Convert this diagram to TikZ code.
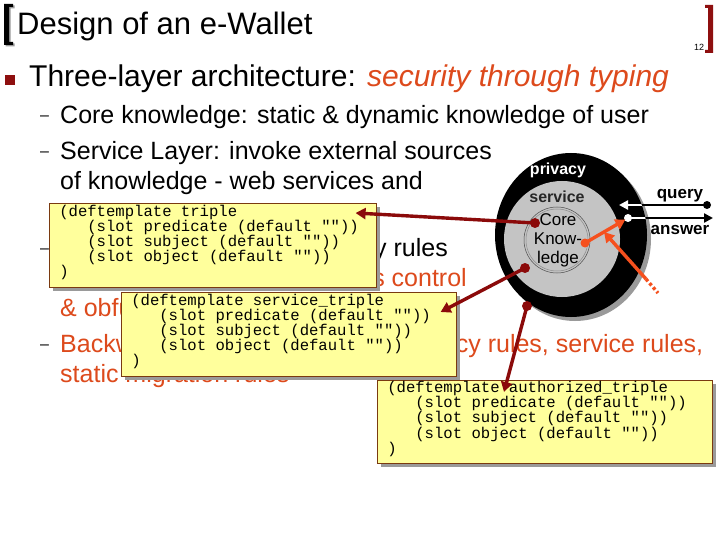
\documentclass[tikz,border=0pt]{standalone}
\usepackage{fontspec}
\setmainfont{Liberation Sans}
\setmonofont{Liberation Mono}
\usetikzlibrary{arrows.meta,positioning,calc,shadows}
\newcommand{\codesp}{\hspace*{0.6em}}
\newcommand{\codeend}{)\rule[-9pt]{0pt}{9pt}}

\begin{document}
\begin{tikzpicture}[
    x=1pt, y=-1pt,
    every node/.style={inner sep=0pt},
    slidetext/.style={anchor=base west, font=\fontsize{25}{30}\selectfont},
    dashmark/.style={anchor=base west, font=\fontsize{16}{18}\selectfont},
    codebox/.style={draw=boxedge, line width=0.6pt, fill=noteyellow, anchor=north west,
      align=left, inner xsep=10pt, inner ysep=0pt, minimum height=84pt,
      font=\ttfamily\fontsize{15.6}{15.1}\selectfont,
      drop shadow={shadow xshift=4pt, shadow yshift=-4pt, fill=boxshadow, opacity=1}},
    redlink/.style={linkred, line width=3.4pt, -{Triangle[length=10pt, width=11pt]}},
    orangelink/.style={linkorange, line width=3.4pt, -{Triangle[length=10pt, width=11pt]}},
    flowlink/.style={line width=2.4pt, -{Triangle[length=9pt, width=9pt]}},
    ringlabel/.style={anchor=base, font=\bfseries\fontsize{16}{18}\selectfont},
  ]
    \definecolor{bracketred}{HTML}{8E0F0F}
    \definecolor{textorange}{HTML}{DD4A1C}
    \definecolor{linkred}{HTML}{8B0A0A}
    \definecolor{linkorange}{HTML}{F5501E}
    \definecolor{noteyellow}{HTML}{FFFF9C}
    \definecolor{boxedge}{HTML}{7A3A10}
    \definecolor{boxshadow}{HTML}{9A9A9A}
    \definecolor{ringgray}{HTML}{C4C4C4}

    \fill[white] (0,0) rectangle (720,540);
    \useasboundingbox (0,0) rectangle (720,540);

    % ---- title ----
    \fill[boxshadow] (5.5,5.5) -- (14.5,5.5) -- (14.5,8.5) -- (10.5,8.5) -- (10.5,43.5)
      -- (14.5,43.5) -- (14.5,46.5) -- (5.5,46.5) -- cycle;
    \fill (4,4) -- (13,4) -- (13,7) -- (9,7) -- (9,42) -- (13,42) -- (13,45) -- (4,45) -- cycle;
    \fill[bracketred] (713,5) -- (705,5) -- (705,8) -- (708,8) -- (708,50) -- (705,50)
      -- (705,53) -- (713,53) -- cycle;
    \node[anchor=base west, font=\fontsize{31}{36}\selectfont] (title) at (17,35) {Design of an e-Wallet};
    \node[anchor=base, font=\fontsize{9}{10}\selectfont] (pagenum) at (699,51) {12};

    % ---- bullets ----
    \fill[bracketred] (5,75) rectangle (15,85);
    \node[anchor=base west, font=\fontsize{30}{36}\selectfont] (topic) at (29,87)
      {Three-layer architecture: \textcolor{textorange}{\itshape security through typing}};
    \foreach \yb in {124,160,256,352}{
      \node[dashmark] (dash\yb) at (40,\yb-3) {\textendash};
    }
    \node[slidetext] (coreline) at (60,124) {Core knowledge: static \& dynamic knowledge of user};
    \node[slidetext] (serviceline) at (60,160) {Service Layer: invoke external sources};
    \node[slidetext] (servicecont) at (60,190) {of knowledge - web services and};
    \node[slidetext, anchor=base east] (privacyline) at (448,256) {Privacy Layer: privacy rules};
    \node[slidetext, anchor=base east, textorange] (privacycont) at (467,286) {role based access control};
    \node[slidetext, textorange] (privacyobf) at (60,316) {\& obfuscation};
    \node[slidetext, textorange] (backwardline) at (60,352)
      {\makebox[643pt][l]{Backward chaining:\hfill privacy rules, service rules,}};
    \node[slidetext, textorange] (backwardcont) at (60,382) {static migration rules};

    % ---- three-layer rings ----
    \fill[boxshadow] (575,239) ellipse [x radius=76, y radius=82];
    \fill[black] (571,235) ellipse [x radius=76, y radius=82];
    \fill[ringgray] (562,239) circle [radius=58];
    \draw[black!70, line width=0.5pt] (557,240) circle [radius=33];
    \draw[black!45, line width=0.5pt] (557,240) circle [radius=31];
    \node[ringlabel, white] (privacylbl) at (558,175) {privacy};
    \node[ringlabel, black!85] (servicelbl) at (557,203) {service};
    \node[align=center, font=\fontsize{17}{19}\selectfont] (corelbl) at (558,240) {Core\\Know-\\ledge};

    % ---- query / answer ----
    \node[ringlabel, font=\bfseries\fontsize{17}{20}\selectfont] (querylbl) at (680,199) {query};
    \node[ringlabel, font=\bfseries\fontsize{17}{20}\selectfont] (answerlbl) at (680,235) {answer};
    \coordinate (querydot) at (707,205);
    \coordinate (querytip) at (619,205);
    \coordinate (answerdot) at (628,218);
    \coordinate (answertip) at (713,218);
    \draw[flowlink] (querydot) -- (querytip);
    \draw[flowlink] (answerdot) -- (answertip);
    \begin{scope}
      \clip (571,235) ellipse [x radius=76, y radius=82];
      \draw[flowlink, white] (querydot) -- (querytip);
      \draw[flowlink, white] (answerdot) -- (answertip);
    \end{scope}
    \fill (querydot) circle [radius=4];
    \fill[white] (answerdot) circle [radius=4];

    % ---- templates ----
    \node[codebox, text width=307pt] (tpl) at (49,203)
      {(deftemplate\codesp triple\\
       \hphantom{xxx}(slot\codesp predicate\codesp (default\codesp ""))\\
       \hphantom{xxx}(slot\codesp subject\codesp (default\codesp ""))\\
       \hphantom{xxx}(slot\codesp object\codesp (default\codesp ""))\\
       \codeend};
    \node[codebox, text width=315pt] (svc) at (121,292)
      {(deftemplate\codesp service\_triple\\
       \hphantom{xxx}(slot\codesp predicate\codesp (default\codesp ""))\\
       \hphantom{xxx}(slot\codesp subject\codesp (default\codesp ""))\\
       \hphantom{xxx}(slot\codesp object\codesp (default\codesp ""))\\
       \codeend};
    \node[codebox, text width=315pt, minimum height=83pt] (auth) at (377,380)
      {(deftemplate\codesp authorized\_triple\\
       \hphantom{xxx}(slot\codesp predicate\codesp (default\codesp ""))\\
       \hphantom{xxx}(slot\codesp subject\codesp (default\codesp ""))\\
       \hphantom{xxx}(slot\codesp object\codesp (default\codesp ""))\\
       \codeend};

    % ---- links into the templates ----
    \coordinate (coredot) at (535,223);
    \coordinate (servdot) at (525,268);
    \coordinate (privdot) at (527,306);
    \coordinate (tplpin) at ($(tpl.north east)+(-21,10)$);
    \coordinate (svcpin) at ($(svc.north east)+(-16,20)$);
    \coordinate (authpin) at ($(auth.north west)+(127,12)$);
    \draw[redlink] (coredot) -- (tplpin);
    \draw[redlink] (servdot) -- (svcpin);
    \draw[redlink] (privdot) -- (authpin);
    \foreach \dot in {coredot,servdot,privdot}{
      \fill[linkred] (\dot) circle [radius=5];
    }

    % ---- answer path ----
    \coordinate (knowdot) at (585,243);
    \coordinate (mergept) at (604,232);
    \coordinate (tailend) at (646,279);
    \coordinate (tailtip) at (658,293);
    \draw[orangelink, shorten >=3pt] (knowdot) -- (answerdot);
    \draw[orangelink] (tailend) -- (mergept);
    \draw[linkorange, line width=3.4pt, dash pattern=on 3pt off 2.5pt] (tailend) -- (tailtip);
    \fill[linkorange] (knowdot) circle [radius=4.5];
  \end{tikzpicture}
\end{document}
